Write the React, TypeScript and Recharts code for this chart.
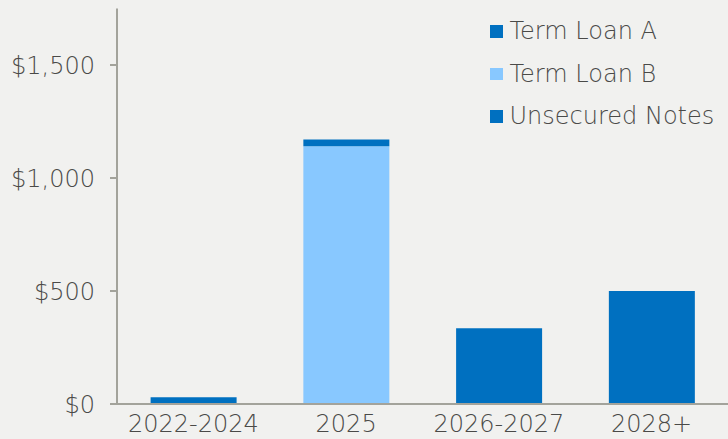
import React from "react";
import { BarChart, Bar, XAxis, YAxis } from "recharts";

const categories = ["2022-2024", "2025", "2026-2027", "2028+"];
const termLoanA = [30, 30, 335, 0];
const termLoanB = [0, 1140, 0, 0];
const unsecuredNotes = [0, 0, 0, 500];
const yTicks = [0, 500, 1000, 1500];

const seriesNames = ["Term Loan A", "Term Loan B", "Unsecured Notes"];
const seriesColors = ["#0070C0", "#88C8FF", "#0070C0"];

const data = categories.map((c, i) => ({
  name: c,
  tla: termLoanA[i],
  tlb: termLoanB[i],
  un: unsecuredNotes[i],
}));

const FONT = "'DejaVu Sans', sans-serif";
const WEIGHT = 200;
const TEXT = "#4a4a48";
const AXIS = "#a3a39b";

const fmt = (v: number) => "$" + v.toLocaleString("en-US");

const LegendBox = () => (
  <div
    style={{
      position: "absolute",
      left: 490,
      top: 10,
      fontFamily: FONT,
      fontWeight: WEIGHT,
      fontSize: 24,
      color: TEXT,
    }}
  >
    {seriesNames.map((n, i) => (
      <div
        key={n}
        style={{ display: "flex", alignItems: "center", height: 42.5, whiteSpace: "nowrap" }}
      >
        <span
          style={{
            display: "inline-block",
            width: 12.5,
            height: 12.5,
            background: seriesColors[i],
            marginRight: 7,
          }}
        />
        <span>{n}</span>
      </div>
    ))}
  </div>
);

export default function App() {
  return (
    <div
      style={{
        position: "absolute",
        left: 0,
        top: 0,
        width: 728,
        height: 439,
        background: "#f1f1ef",
      }}
    >
      <BarChart
        width={728}
        height={439}
        data={data}
        margin={{ top: 8.5, right: 0, bottom: 0, left: 0 }}
        barCategoryGap="22%"
      >
        <XAxis
          dataKey="name"
          height={35}
          tickLine={false}
          tickSize={0}
          tickMargin={11}
          axisLine={{ stroke: AXIS, strokeWidth: 2 }}
          tick={{ fontFamily: FONT, fontWeight: WEIGHT, fontSize: 24, fill: TEXT }}
        />
        <YAxis
          width={117}
          domain={[0, 1750]}
          ticks={yTicks}
          tickFormatter={fmt}
          tickSize={7}
          tickMargin={15}
          axisLine={{ stroke: AXIS, strokeWidth: 2 }}
          tickLine={{ stroke: AXIS, strokeWidth: 2 }}
          tick={{ fontFamily: FONT, fontWeight: WEIGHT, fontSize: 24, fill: TEXT }}
        />
        <Bar dataKey="un" stackId="a" fill={seriesColors[2]} isAnimationActive={false} />
        <Bar dataKey="tlb" stackId="a" fill={seriesColors[1]} isAnimationActive={false} />
        <Bar dataKey="tla" stackId="a" fill={seriesColors[0]} isAnimationActive={false} />
      </BarChart>
      <LegendBox />
    </div>
  );
}
